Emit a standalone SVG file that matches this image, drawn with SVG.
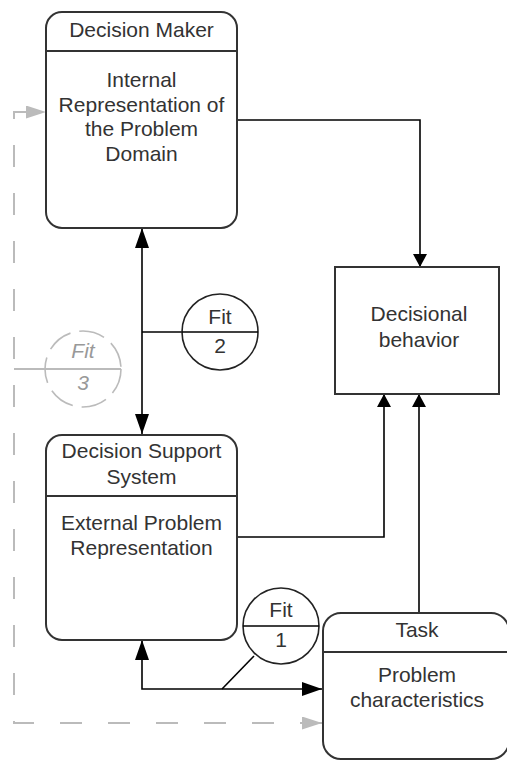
<svg xmlns="http://www.w3.org/2000/svg" width="507" height="762" viewBox="0 0 507 762">
<style>
  .box{fill:#ffffff;stroke:#333333;stroke-width:2}
  .div{stroke:#333333;stroke-width:2;fill:none}
  .t{font-family:"Liberation Sans",Arial,sans-serif;font-size:21px;fill:#333333;text-anchor:middle}
  .c{fill:none;stroke:#000000;stroke-width:1.6}
  .g{fill:none;stroke:#bbbbbb;stroke-width:2}
  .gd{fill:none;stroke:#bbbbbb;stroke-width:2;stroke-dasharray:22 26}
  .fit{fill:#ffffff;stroke:#222222;stroke-width:1.6}
  .fitg{fill:none;stroke:#bbbbbb;stroke-width:1.6;stroke-dasharray:26 9}
  .tg{font-family:"Liberation Sans",Arial,sans-serif;font-size:21px;fill:#999999;text-anchor:middle;font-style:italic}
</style>
<defs>
  <marker id="aS" viewBox="0 0 13 14" markerWidth="13" markerHeight="14" refX="13" refY="7" orient="auto-start-reverse" markerUnits="userSpaceOnUse">
    <path d="M0,0 L13,7 L0,14 z" fill="#000000"/>
  </marker>
  <marker id="aL" viewBox="0 0 20 14" markerWidth="20" markerHeight="14" refX="20" refY="7" orient="auto-start-reverse" markerUnits="userSpaceOnUse">
    <path d="M0,0 L20,7 L0,14 z" fill="#000000"/>
  </marker>
  <marker id="aG" viewBox="0 0 20 13" markerWidth="20" markerHeight="13" refX="20" refY="6.5" orient="auto-start-reverse" markerUnits="userSpaceOnUse">
    <path d="M0,0 L20,6.5 L0,13 z" fill="#bbbbbb"/>
  </marker>
</defs>
<rect width="507" height="762" fill="#ffffff"/>

<g id="connectors">
  <path class="gd" d="M322,723 H14 V112 H46" marker-start="url(#aG)" marker-end="url(#aG)"/>
  <path class="g" d="M14,369 H121"/>
  <path class="c" d="M237,120 H420 V267" marker-end="url(#aS)"/>
  <path class="c" d="M142,228 V434" marker-start="url(#aL)" marker-end="url(#aL)"/>
  <path class="c" d="M237,537 H384 V394" marker-end="url(#aS)"/>
  <path class="c" d="M419,613 V394" marker-end="url(#aS)"/>
  <path class="c" d="M142,640 V689 H322" marker-start="url(#aL)" marker-end="url(#aL)"/>
  <path class="c" d="M222,689 L254,656"/>
  <path class="c" d="M142,332 H220"/>
</g>

<g id="decision-maker">
  <rect class="box" x="46" y="12" width="191" height="216" rx="16"/>
  <line class="div" x1="46" y1="51" x2="237" y2="51"/>
  <text class="t" x="141.5" y="37">Decision Maker</text>
  <text class="t" x="141.5" y="87">Internal</text>
  <text class="t" x="141.5" y="111.5">Representation of</text>
  <text class="t" x="141.5" y="136">the Problem</text>
  <text class="t" x="141.5" y="160.5">Domain</text>
</g>

<g id="decisional-behavior">
  <rect class="box" x="335" y="267" width="164" height="127"/>
  <text class="t" x="419" y="321">Decisional</text>
  <text class="t" x="419" y="346.5">behavior</text>
</g>

<g id="dss">
  <rect class="box" x="46" y="435" width="191" height="205" rx="16"/>
  <line class="div" x1="46" y1="496" x2="237" y2="496"/>
  <text class="t" x="141.5" y="458">Decision Support</text>
  <text class="t" x="141.5" y="484">System</text>
  <text class="t" x="141.5" y="530">External Problem</text>
  <text class="t" x="141.5" y="555">Representation</text>
</g>

<g id="task">
  <rect class="box" x="323" y="613" width="186" height="146" rx="18"/>
  <line class="div" x1="323" y1="652" x2="509" y2="652"/>
  <text class="t" x="417" y="637">Task</text>
  <text class="t" x="417" y="682">Problem</text>
  <text class="t" x="417" y="707">characteristics</text>
</g>

<g id="fit2">
  <circle class="fit" cx="220" cy="332" r="38"/>
  <line class="c" x1="182" y1="332" x2="258" y2="332"/>
  <text class="t" x="220" y="324">Fit</text>
  <text class="t" x="220" y="353">2</text>
</g>

<g id="fit1">
  <circle class="fit" cx="281" cy="626" r="38"/>
  <line class="c" x1="243" y1="626" x2="319" y2="626"/>
  <text class="t" x="281" y="617">Fit</text>
  <text class="t" x="281" y="647">1</text>
</g>

<g id="fit3">
  <circle class="fitg" cx="83" cy="369" r="38"/>
  <text class="tg" x="83" y="358">Fit</text>
  <text class="tg" x="83" y="390">3</text>
</g>
</svg>
